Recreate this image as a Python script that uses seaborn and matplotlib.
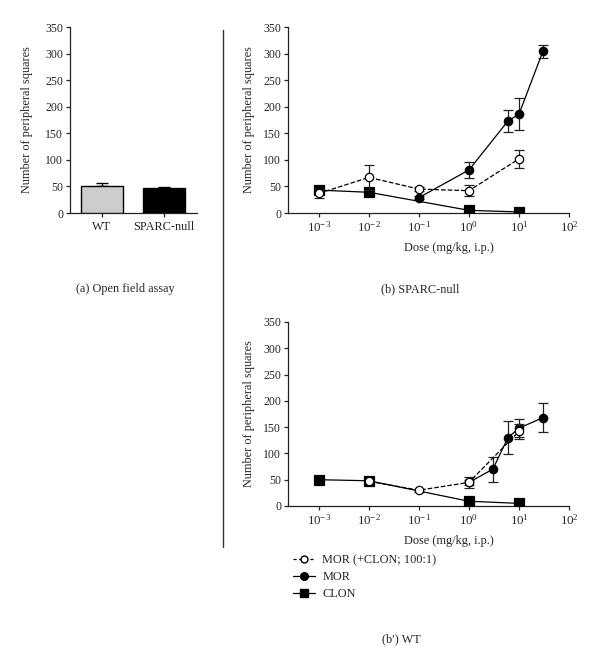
import numpy as np
import pandas as pd
import matplotlib
matplotlib.use("Agg")
import matplotlib.pyplot as plt
from matplotlib.lines import Line2D
from matplotlib.ticker import NullLocator
import seaborn as sns

# ---------------- data ----------------
bar_groups = ["WT", "SPARC-null"]
bar_values = [50, 47]
bar_err = [7, 1.5]

# (b) SPARC-null
sp_combo_dose = [0.001, 0.01, 0.1, 1, 10]
sp_combo_val = [37, 67, 45, 42, 102]
sp_combo_err = [9, 24, 3, 10, 17]

sp_mor_dose = [0.1, 1, 6, 10, 30]
sp_mor_val = [29, 81, 173, 186, 304]
sp_mor_err = [3, 15, 21, 30, 13]

sp_clon_dose = [0.001, 0.01, 1, 10]
sp_clon_val = [43, 39, 5, 2]
sp_clon_err = [3, 2, 2, 1]

# (b') WT
wt_combo_dose = [0.01, 0.1, 1, 10]
wt_combo_val = [47, 30, 45, 142]
wt_combo_err = [3, 3, 10, 14]

wt_mor_dose = [1, 3, 6, 10, 30]
wt_mor_val = [45, 70, 130, 148, 168]
wt_mor_err = [5, 24, 32, 17, 27]

wt_clon_dose = [0.001, 0.01, 1, 10]
wt_clon_val = [50, 48, 9, 5]
wt_clon_err = [2, 2, 2, 1]

legend_labels = ["MOR (+CLON; 100:1)", "MOR", "CLON"]
xtick_vals = [1e-3, 1e-2, 1e-1, 1e0, 1e1, 1e2]
ytick_vals = [0, 50, 100, 150, 200, 250, 300, 350]

# ---------------- style ----------------
sns.set_theme(style="ticks")
plt.rcParams["font.family"] = ["Liberation Serif", "DejaVu Serif"]
plt.rcParams["mathtext.fontset"] = "stix"
plt.rcParams["axes.linewidth"] = 0.9
plt.rcParams["xtick.major.width"] = 0.9
plt.rcParams["ytick.major.width"] = 0.9
plt.rcParams["xtick.major.size"] = 3
plt.rcParams["ytick.major.size"] = 3
plt.rcParams["xtick.major.pad"] = 2
plt.rcParams["ytick.major.pad"] = 2
plt.rcParams["xtick.labelsize"] = 8.5
plt.rcParams["ytick.labelsize"] = 8.5
plt.rcParams["axes.edgecolor"] = "#222222"

W, H = 600, 667
fig = plt.figure(figsize=(6, 6.67), dpi=100)


def fbox(l, t, r, b):
    return [l / W, 1 - b / H, (r - l) / W, (b - t) / H]


ax_a = fig.add_axes(fbox(70, 27, 197, 213))
ax_b = fig.add_axes(fbox(288, 27, 569, 213))
ax_c = fig.add_axes(fbox(288, 322, 569, 506))

# ---------------- (a) bars ----------------
df_a = pd.DataFrame({"group": bar_groups, "value": bar_values})
sns.barplot(data=df_a, x="group", y="value", hue="group", ax=ax_a,
            palette=["#cccccc", "#000000"], legend=False, width=0.68,
            edgecolor="black", linewidth=1.0, errorbar=None, zorder=3)
ax_a.errorbar([0, 1], bar_values, yerr=[[0, 0], bar_err], fmt="none",
              ecolor="black", elinewidth=1.0, capsize=4.5, capthick=1.0, zorder=2)
ax_a.set_xlim(-0.516, 1.53)
ax_a.set_ylim(0, 350)
ax_a.set_yticks(ytick_vals)
ax_a.set_xlabel("")
ax_a.set_ylabel("Number of peripheral squares", fontsize=8.8)
ax_a.yaxis.set_label_coords(-0.29, 0.5)
ax_a.tick_params(axis="x", labelsize=8.8, pad=3)
sns.despine(ax=ax_a)


# ---------------- dose-response panels ----------------
def series(ax, dose, val, err, kind, z):
    if kind == "combo":
        kw = dict(marker="o", markersize=6, markerfacecolor="white",
                  markeredgecolor="black", markeredgewidth=0.9,
                  linestyle="--", dashes=(4, 3))
    elif kind == "mor":
        kw = dict(marker="o", markersize=6, markerfacecolor="black",
                  markeredgecolor="black", markeredgewidth=0.9, linestyle="-")
    else:
        kw = dict(marker="s", markersize=6.5, markerfacecolor="black",
                  markeredgecolor="black", markeredgewidth=0.9, linestyle="-")
    ax.errorbar(dose, val, yerr=err, fmt="none", ecolor="#222222",
                elinewidth=0.9, capsize=3.6, capthick=0.9, zorder=z - 0.5)
    sns.lineplot(x=dose, y=val, ax=ax, color="black", linewidth=0.9,
                 errorbar=None, zorder=z, **kw)


def style_dose(ax):
    ax.set_xscale("log")
    ax.set_xlim(10 ** -3.62, 100)
    ax.set_ylim(0, 350)
    ax.set_xticks(xtick_vals)
    ax.xaxis.set_minor_locator(NullLocator())
    ax.set_yticks(ytick_vals)
    ax.set_xlabel("Dose (mg/kg, i.p.)", fontsize=8.8)
    ax.set_ylabel("Number of peripheral squares", fontsize=8.8)
    ax.xaxis.set_label_coords(0.573, -0.155)
    ax.yaxis.set_label_coords(-0.117, 0.5)
    ax.tick_params(axis="x", pad=2, labelsize=9.3)
    sns.despine(ax=ax)


series(ax_b, sp_clon_dose, sp_clon_val, sp_clon_err, "clon", 3)
series(ax_b, sp_mor_dose, sp_mor_val, sp_mor_err, "mor", 4)
series(ax_b, sp_combo_dose, sp_combo_val, sp_combo_err, "combo", 5)
style_dose(ax_b)

series(ax_c, wt_clon_dose, wt_clon_val, wt_clon_err, "clon", 3)
series(ax_c, wt_mor_dose, wt_mor_val, wt_mor_err, "mor", 4)
series(ax_c, wt_combo_dose, wt_combo_val, wt_combo_err, "combo", 5)
style_dose(ax_c)

# ---------------- legend ----------------
handles = [
    Line2D([], [], color="black", lw=0.9, linestyle="--", dashes=(2.5, 2),
           marker="o", markersize=5, markerfacecolor="white", markeredgecolor="black"),
    Line2D([], [], color="black", lw=0.9, marker="o", markersize=5.5,
           markerfacecolor="black", markeredgecolor="black"),
    Line2D([], [], color="black", lw=0.9, marker="s", markersize=6,
           markerfacecolor="black", markeredgecolor="black"),
]
fig.legend(handles, legend_labels, loc="center left",
           bbox_to_anchor=(293 / W, 1 - 577.5 / H), frameon=False,
           fontsize=8.8, handlelength=1.8, handletextpad=0.6,
           labelspacing=0.4, borderpad=0, borderaxespad=0)

# ---------------- captions & divider ----------------
fig.text(125 / W, 1 - 289 / H, "(a) Open field assay", ha="center", va="center", fontsize=8.8)
fig.text(420 / W, 1 - 289 / H, "(b) SPARC-null", ha="center", va="center", fontsize=8.8)
fig.text(401 / W, 1 - 639 / H, "(b\u2032) WT", ha="center", va="center", fontsize=8.8)
fig.add_artist(Line2D([223 / W, 223 / W], [1 - 30 / H, 1 - 547 / H],
                      transform=fig.transFigure, color="#333333", lw=1.0))

fig.savefig("out.png", dpi=100, facecolor="white")
